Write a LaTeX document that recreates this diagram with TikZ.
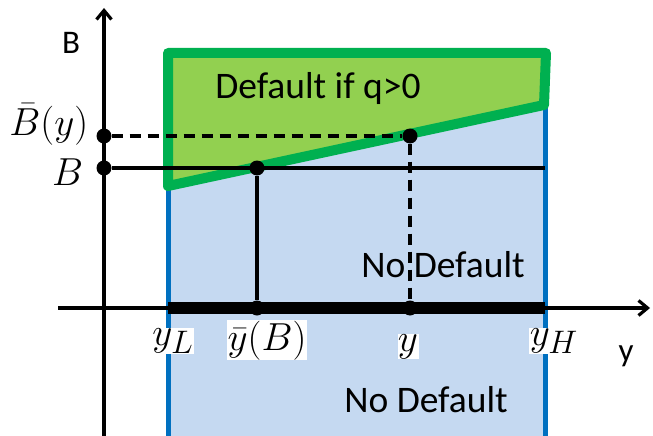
\documentclass[tikz,border=0pt]{standalone}
\usepackage{fontspec}
\setsansfont{Carlito}
\usetikzlibrary{arrows.meta, positioning}

\definecolor{regionblue}{RGB}{197,217,241}
\definecolor{edgeblue}{RGB}{0,112,192}
\definecolor{regiongreen}{RGB}{146,208,80}
\definecolor{edgegreen}{RGB}{0,176,80}

\begin{document}
\begin{tikzpicture}[
    x=1pt, y=-1pt,
    >={Straight Barb[length=9pt, width=15pt]},
    axis/.style={line width=3.2pt},
    guide/.style={line width=3.8pt},
    guidedash/.style={line width=3.2pt, dash pattern=on 11pt off 7pt},
    dotmark/.style={circle, fill=black, inner sep=0pt, minimum size=15pt},
    txt/.style={font=\sffamily\fontsize{37.5}{45}\selectfont},
    axlbl/.style={font=\sffamily\fontsize{33}{40}\selectfont},
    mlbl/.style={font=\Huge, scale=1.57, inner sep=0.3pt}
  ]
  \clip (0,0) rectangle (653,436);

  % regions
  \fill[regionblue] (168,60) rectangle (545,450);
  \draw[edgeblue, line width=5pt] (168,60) -- (168,450) (545,60) -- (545,450);
  \filldraw[fill=regiongreen, draw=edgegreen, line width=10pt, line join=round]
    (168,53) -- (546,53) -- (544,105) -- (168,186) -- cycle;

  \node[txt, anchor=base] (deflbl) at (318,99) {Default if q>0};
  \node[txt, anchor=base] (nodefa) at (443,277) {No Default};
  \node[txt, anchor=base] (nodefb) at (426,412) {No Default};

  % axes
  \coordinate (xstart) at (58,308);
  \coordinate (xend) at (650,308);
  \coordinate (ybot) at (104,440);
  \coordinate (ytop) at (104,8);
  \draw[axis, ->] (xstart) -- (xend);
  \draw[axis, ->] (ybot) -- (ytop);

  % points
  \coordinate (yl) at (168,308);
  \coordinate (yh) at (545,308);
  \coordinate (bend) at (545,168);
  \node[dotmark] (ybarpt) at (257,308) {};
  \node[dotmark] (ypt) at (410,308) {};
  \node[dotmark] (bbar) at (104,136) {};
  \node[dotmark] (b) at (104,168) {};
  \node[dotmark] (cross) at (257,168) {};
  \node[dotmark] (top) at (410,136) {};

  \draw[line width=12pt] (yl) -- (yh);
  \draw[guide] (b) -- (bend);
  \draw[guide] (cross) -- (ybarpt);
  \draw[guidedash] (bbar) -- (top);
  \draw[guidedash] (top) -- (ypt);

  % labels
  \node[axlbl, anchor=base] (blbl) at (71,54) {B};
  \node[axlbl, anchor=base] (ylbl) at (626,361) {y};
  \node[mlbl, anchor=base east] (bbarlbl) at (89,135) {$\bar B(y)$};
  \node[mlbl, anchor=base east] (blbl2) at (84,185) {$B$};
  \node[mlbl, fill=white, anchor=base] (yllbl) at (173,345) {$y_L$};
  \node[mlbl, fill=white, anchor=base] (ybarlbl) at (267,350) {$\bar y(B)$};
  \node[mlbl, fill=white, anchor=base] (ylbl2) at (408,351) {$y$};
  \node[mlbl, fill=white, anchor=base] (yhlbl) at (554,345) {$y_H$};
\end{tikzpicture}
\end{document}
